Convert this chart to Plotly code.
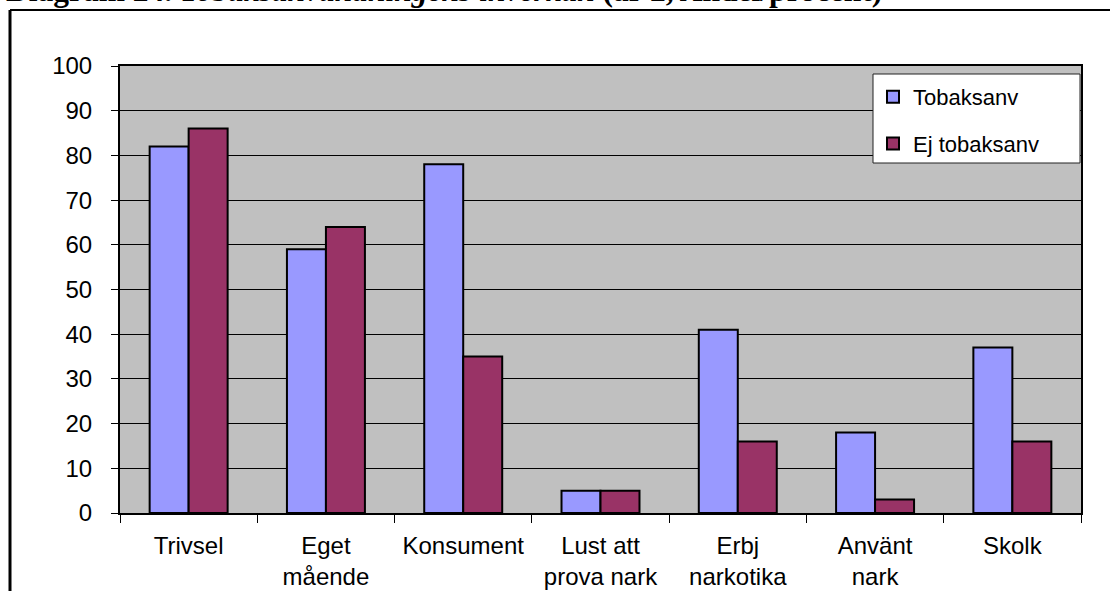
import plotly.graph_objects as go

categories = ["Trivsel", "Eget<br>mående", "Konsument", "Lust att<br>prova nark",
              "Erbj<br>narkotika", "Använt<br>nark", "Skolk"]
tobaksanv = [82, 59, 78, 5, 41, 18, 37]
ej_tobaksanv = [86, 64, 35, 5, 16, 3, 16]
series_names = ["Tobaksanv", "Ej tobaksanv"]
y_ticks = [0, 10, 20, 30, 40, 50, 60, 70, 80, 90, 100]
title_text = ("<b>Diagram 24. <i>Tobaksanvändningens inverkan</i> "
              "(år 2, Andel/procent)</b>")

W, H = 1110, 591
L, R, T, B = 120, 1081, 66, 513

def px_x(x):
    return (x - L) / (R - L)

def px_y(y):
    return (B - y) / (B - T)

fig = go.Figure()
fig.add_trace(go.Bar(x=categories, y=tobaksanv, name=series_names[0],
                     marker=dict(color="#9999FF", line=dict(color="black", width=2)),
                     legendgroup="a"))
fig.add_trace(go.Bar(x=categories, y=ej_tobaksanv, name=series_names[1],
                     marker=dict(color="#993366", line=dict(color="black", width=2)),
                     legendgroup="b"))

axis_font = dict(family="Liberation Sans, Arial, sans-serif", size=24, color="black")

fig.update_layout(
    width=W, height=H,
    margin=dict(l=L, r=W - R, t=T, b=H - B, pad=0),
    paper_bgcolor="white",
    plot_bgcolor="#C0C0C0",
    barmode="group",
    bargap=0.432,
    bargroupgap=0,
    showlegend=True,
    hovermode=False,
    legend=dict(
        x=px_x(873), y=px_y(76), xanchor="left", yanchor="top",
        bgcolor="rgba(0,0,0,0)", borderwidth=0,
        font=dict(family="Liberation Sans, Arial, sans-serif", size=22, color="black"),
        traceorder="grouped", tracegroupgap=15,
    ),
    xaxis=dict(
        type="category", tickson="boundaries", ticks="outside", ticklen=8,
        tickcolor="black", tickwidth=1, showline=True, linecolor="black", linewidth=2,
        mirror=True, showgrid=False, tickfont=axis_font, ticklabelstandoff=10,
        automargin=False,
    ),
    yaxis=dict(
        range=[0, 100], tickvals=y_ticks, ticks="outside", ticklen=7,
        tickcolor="black", tickwidth=1, showline=True, linecolor="black", linewidth=2,
        mirror=True, showgrid=True, gridcolor="black", gridwidth=1,
        tickfont=axis_font, ticklabelstandoff=14, zeroline=False, automargin=False,
    ),
)

# legend box
fig.add_shape(type="rect", xref="paper", yref="paper",
              x0=px_x(873), x1=px_x(1080), y0=px_y(163), y1=px_y(74),
              fillcolor="white", line=dict(color="#222222", width=1), layer="above")

# outer frame (extends beyond the picture on right and bottom)
fig.add_shape(type="line", xref="paper", yref="paper",
              x0=px_x(10), x1=px_x(10), y0=px_y(10), y1=px_y(700),
              line=dict(color="black", width=3))
fig.add_shape(type="line", xref="paper", yref="paper",
              x0=px_x(10), x1=px_x(1200), y0=px_y(10), y1=px_y(10),
              line=dict(color="black", width=2))

# title, mostly cut off at the top as in the source
fig.add_annotation(text=title_text, xref="paper", yref="paper",
                   x=px_x(4), y=px_y(10), xanchor="left", yanchor="bottom",
                   showarrow=False,
                   font=dict(family="Liberation Serif, Times New Roman, serif",
                             size=31.5, color="black"))

fig.write_html("out.html", config={"displayModeBar": False},
               post_script="document.body.style.margin='0px';")
